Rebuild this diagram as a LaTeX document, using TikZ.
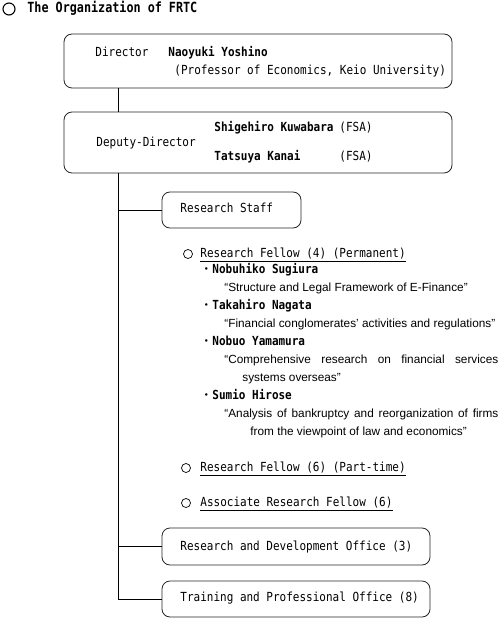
\documentclass[tikz,border=0pt]{standalone}
\usepackage{fontspec}
\newfontfamily\mymonofam[FakeStretch=0.88]{DejaVu Sans Mono}
\newfontfamily\mytitlefam[FakeStretch=0.84]{DejaVu Sans Mono}
\newfontfamily\myqfam{Liberation Sans}
\newfontfamily\mycjkfam{Noto Sans CJK JP}
\newcommand\mymono{\mymonofam\fontsize{12.5}{14}\selectfont}
\newcommand\mymonobig{\mytitlefam\fontsize{14}{16}\selectfont}
\newcommand\myquote{\myqfam\fontsize{11.8}{14}\selectfont}
\newcommand\mydot{{\mycjkfam\fontsize{12}{14}\selectfont ・}}
\begin{document}
\begin{tikzpicture}[x=1pt,y=-1pt,line width=0.8pt,
  box/.style={draw=black!85,rounded corners=8pt,inner sep=0pt},
  txt/.style={inner sep=0pt,anchor=west,text height=9pt,text depth=2.5pt,font=\mymono},
  btxt/.style={txt,font=\mymono\bfseries},
  qtxt/.style={inner sep=0pt,anchor=west,text height=8.5pt,text depth=2.5pt,font=\myquote},
  ring/.style={draw,circle,inner sep=0pt,minimum size=9pt,line width=0.7pt},
  uline/.style={line width=0.6pt},
  conn/.style={line width=0.8pt}]
\useasboundingbox (0,0) rectangle (503,620);

% title
\node[ring,minimum size=12pt,line width=1.1pt] (tc) at (9,9) {};
\node[txt,font=\mymonobig\bfseries,text height=10pt,text depth=3pt] (title) at (27,9) {The Organization of FRTC};

% director
\node[box,minimum width=388pt,minimum height=54pt] (dir) at (258,61) {};
\node[txt] (dirl) at (95,53) {Director};
\node[btxt] (diry) at (168,53) {Naoyuki Yoshino};
\node[txt] (dirp) at (174,71) {(Professor of Economics, Keio University)};

% deputy
\node[box,minimum width=388pt,minimum height=61pt] (dep) at (258,142.5) {};
\node[txt] (depl) at (96,143) {Deputy-Director};
\node[btxt] (kuw) at (214,128) {Shigehiro Kuwabara};
\node[txt] (fsa1) at (339,128) {(FSA)};
\node[btxt] (kan) at (214,157) {Tatsuya Kanai};
\node[txt] (fsa2) at (339,157) {(FSA)};

% research staff
\node[box,minimum width=139pt,minimum height=36pt] (rs) at (231.5,210) {};
\node[txt] (rst) at (180,209) {Research Staff};

% research fellow permanent
\node[ring] (c4) at (188,254) {};
\node[txt] (rf4) at (200,254) {Research Fellow (4) (Permanent)};
\draw[uline] ([yshift=-1pt]rf4.south west) -- ([yshift=-1pt]rf4.south east);

\node[txt] (n1) at (200,270) {\mydot\textbf{Nobuhiko Sugiura}};
\node[qtxt] (q1) at (224,288) {“Structure and Legal Framework of E-Finance”};
\node[txt] (n2) at (200,306) {\mydot\textbf{Takahiro Nagata}};
\node[qtxt] (q2) at (224,324) {“Financial conglomerates’ activities and regulations”};
\node[txt] (n3) at (200,342) {\mydot\textbf{Nobuo Yamamura}};
\node[qtxt] (q3a) at (224,360) {\makebox[274pt][s]{“Comprehensive research on financial services}};
\node[qtxt] (q3b) at (242,378) {systems overseas”};
\node[txt] (n4) at (200,396) {\mydot\textbf{Sumio Hirose}};
\node[qtxt] (q4a) at (224,414) {\makebox[274pt][s]{“Analysis of bankruptcy and reorganization of firms}};
\node[qtxt] (q4b) at (250,432) {from the viewpoint of law and economics”};

% part-time and associate
\node[ring] (c6) at (186,468) {};
\node[txt] (rf6) at (200,468) {Research Fellow (6) (Part-time)};
\draw[uline] ([yshift=-1pt]rf6.south west) -- ([yshift=-1pt]rf6.south east);
\node[ring] (ca) at (186,503) {};
\node[txt] (arf) at (200,503) {Associate Research Fellow (6)\hspace{8pt}};
\draw[uline] ([yshift=-1pt]arf.south west) -- ([yshift=-1pt]arf.south east);

% offices
\node[box,minimum width=268pt,minimum height=37pt] (rd) at (296,546.5) {};
\node[txt] (rdt) at (180,547) {Research and Development Office (3)};
\node[box,minimum width=268pt,minimum height=36pt] (tp) at (296,599) {};
\node[txt] (tpt) at (180,598) {Training and Professional Office (8)};

% trunk and branches
\coordinate (tk) at (118,0);
\draw[conn] (dir.south -| tk) -- (dep.north -| tk);
\draw[conn] (dep.south -| tk) -- (tp.west -| tk);
\draw[conn] (rs.west -| tk) -- (rs.west);
\draw[conn] (rd.west -| tk) -- (rd.west);
\draw[conn] (tp.west -| tk) -- (tp.west);
\end{tikzpicture}
\end{document}
